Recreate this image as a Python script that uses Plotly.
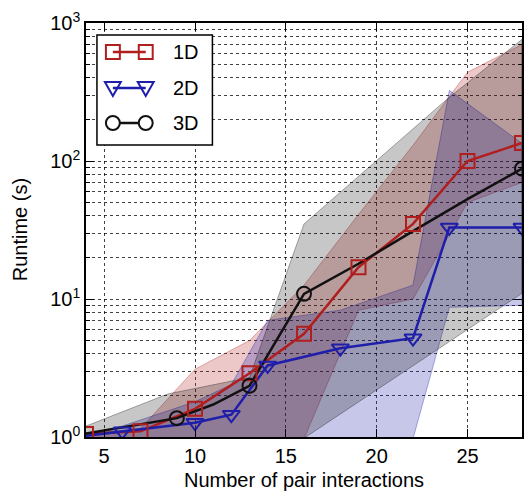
import plotly.graph_objects as go

# ---------------- data ----------------
# 1D series (red, squares)
x_1d = [4, 7, 10, 13, 16, 19, 22, 25, 28]
y_1d = [1.05, 1.1, 1.6, 2.9, 5.6, 17, 35, 100, 135]
band_1d_upper = [1.05, 1.15, 3.1, 5.0, 12.6, 41, 130, 440, 700]
band_1d_lower = [0.85, 0.85, 0.85, 0.85, 0.97, 8.3, 10, 50, 70]

# 2D series (blue, triangles)
x_2d = [4, 6, 10, 12, 14, 18, 22, 24, 28]
y_2d = [1.02, 1.1, 1.27, 1.45, 3.3, 4.4, 5.2, 33, 33]
band_2d_upper = [1.05, 1.2, 1.8, 2.4, 7.0, 8.3, 12.6, 325, 134]
band_2d_lower = [0.85, 0.85, 0.85, 0.85, 0.85, 0.9, 0.97, 8.7, 9.0]
marker_idx_2d = [1, 2, 3, 4, 5, 6, 7, 8]

# 3D series (black, circles)
x_3d = [4, 6, 8, 9, 11, 13, 16, 19, 22, 25, 28]
y_3d = [1.06, 1.17, 1.3, 1.37, 1.72, 2.35, 10.9, 18, 31, 53, 88]
marker_idx_3d = [3, 5, 6, 10]
band_3d_upper_x = [4, 8.5, 13, 16, 24, 28]
band_3d_upper = [1.2, 2.05, 2.7, 35, 290, 760]
band_3d_lower_x = [4, 10, 16, 28]
band_3d_lower = [0.85, 0.85, 0.98, 11]

labels = ["1D", "2D", "3D"]
y_tick_vals = [1, 10, 100, 1000]
y_tick_text = ["10<sup>0</sup>", "10<sup>1</sup>", "10<sup>2</sup>", "10<sup>3</sup>"]
y_minor_vals = [m * d for d in (1, 10, 100) for m in range(2, 10)]
x_tick_vals = [5, 10, 15, 20, 25]

RED = "#B01E1E"
BLUE = "#1E1EAA"
BLACK = "#111111"
FONT = "Liberation Sans, Arial, sans-serif"

fig = go.Figure()


def band(xu, yu, xl, yl, rgb, alpha):
    fig.add_trace(go.Scatter(
        x=list(xu) + list(xl)[::-1], y=list(yu) + list(yl)[::-1],
        fill="toself", mode="lines",
        fillcolor=f"rgba({rgb},{alpha})",
        line=dict(color=f"rgba({rgb},{alpha + 0.1})", width=1),
        hoverinfo="skip", showlegend=False))


band(x_1d, band_1d_upper, x_1d, band_1d_lower, "178,34,34", 0.25)
band(x_2d, band_2d_upper, x_2d, band_2d_lower, "30,30,170", 0.25)
band(band_3d_upper_x, band_3d_upper, band_3d_lower_x, band_3d_lower, "0,0,0", 0.22)

# lines
for xs, ys, col in [(x_1d, y_1d, RED), (x_2d, y_2d, BLUE), (x_3d, y_3d, BLACK)]:
    fig.add_trace(go.Scatter(x=xs, y=ys, mode="lines",
                             line=dict(color=col, width=2.5), showlegend=False))

# markers
fig.add_trace(go.Scatter(x=x_1d, y=y_1d, mode="markers", showlegend=False,
                         marker=dict(symbol="square-open", size=14, color=RED,
                                     line=dict(width=2, color=RED))))
fig.add_trace(go.Scatter(x=[x_2d[i] for i in marker_idx_2d], y=[y_2d[i] for i in marker_idx_2d],
                         mode="markers", showlegend=False,
                         marker=dict(symbol="triangle-down-open", size=15, color=BLUE,
                                     line=dict(width=2, color=BLUE))))
fig.add_trace(go.Scatter(x=[x_3d[i] for i in marker_idx_3d], y=[y_3d[i] for i in marker_idx_3d],
                         mode="markers", showlegend=False,
                         marker=dict(symbol="circle-open", size=14, color=BLACK,
                                     line=dict(width=2, color=BLACK))))

# ---------------- layout ----------------
W, H = 524, 496
L, R, T, B = 86, 0, 23, 59
PW, PH = W - L - R, H - T - B


def px(x):
    return (x - L) / PW


def py(y):
    return (H - B - y) / PH


grid = dict(showgrid=True, gridcolor="rgba(0,0,0,0.75)", griddash="dot", gridwidth=1)

fig.update_layout(
    width=W, height=H, margin=dict(l=L, r=R, t=T, b=B),
    paper_bgcolor="white", plot_bgcolor="white",
    font=dict(family=FONT, size=20, color="black"),
    showlegend=False,
    xaxis=dict(range=[4, 28], tickvals=x_tick_vals, ticks="inside", ticklen=8,
               tickwidth=1, tickcolor="black", showline=True, linecolor="black",
               linewidth=1.5, mirror="allticks", zeroline=False,
               tickfont=dict(size=20), **grid),
    yaxis=dict(type="log", range=[0, 3], tickvals=y_tick_vals, ticktext=y_tick_text,
               ticks="inside", ticklen=8, tickwidth=1, tickcolor="black",
               showline=True, linecolor="black", linewidth=1.5, mirror="allticks",
               zeroline=False, tickfont=dict(size=20),
               minor=dict(tickvals=y_minor_vals, ticks="inside", ticklen=4,
                          tickcolor="black", showgrid=True,
                          gridcolor="rgba(0,0,0,0.75)", griddash="dot", gridwidth=1),
               **grid),
)

fig.add_annotation(text="Number of pair interactions", xref="paper", yref="paper",
                   x=px(305), y=py(480), xanchor="center", yanchor="middle",
                   showarrow=False, font=dict(size=20))
fig.add_annotation(text="Runtime (s)", xref="paper", yref="paper",
                   x=px(20), y=py(230), xanchor="center", yanchor="middle",
                   textangle=-90, showarrow=False, font=dict(size=20))

# ---------------- custom legend ----------------
shapes = [dict(type="rect", xref="paper", yref="paper",
               x0=px(97), x1=px(213), y0=py(145), y1=py(35),
               fillcolor="white", line=dict(color="black", width=1.5), layer="above")]
rows = [52, 88, 123]
cols = [RED, BLUE, BLACK]
m1, m2 = 113, 146
for i, (yy, col) in enumerate(zip(rows, cols)):
    shapes.append(dict(type="line", xref="paper", yref="paper", x0=px(m1), x1=px(m2),
                       y0=py(yy), y1=py(yy), line=dict(color=col, width=2.5), layer="above"))
    for mx in (m1, m2):
        s = 7
        if i == 0:
            shapes.append(dict(type="rect", xref="paper", yref="paper",
                               x0=px(mx - s), x1=px(mx + s), y0=py(yy + s), y1=py(yy - s),
                               fillcolor="rgba(0,0,0,0)", line=dict(color=col, width=2), layer="above"))
        elif i == 1:
            path = (f"M {px(mx - 8)},{py(yy - 6)} L {px(mx + 8)},{py(yy - 6)} "
                    f"L {px(mx)},{py(yy + 8)} Z")
            shapes.append(dict(type="path", xref="paper", yref="paper", path=path,
                               fillcolor="rgba(0,0,0,0)", line=dict(color=col, width=2), layer="above"))
        else:
            shapes.append(dict(type="circle", xref="paper", yref="paper",
                               x0=px(mx - s), x1=px(mx + s), y0=py(yy + s), y1=py(yy - s),
                               fillcolor="white", line=dict(color=col, width=2), layer="above"))
    fig.add_annotation(text=labels[i], xref="paper", yref="paper", x=px(171), y=py(yy),
                       xanchor="left", yanchor="middle", showarrow=False, font=dict(size=20))
fig.update_layout(shapes=shapes)

fig.write_html("out.html", config={"displayModeBar": False},
               post_script="document.body.style.margin='0';document.body.style.overflow='hidden';")
